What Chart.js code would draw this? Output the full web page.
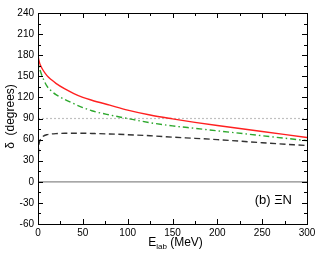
<!DOCTYPE html>
<html>
<head>
<meta charset="utf-8">
<script src="https://cdn.jsdelivr.net/npm/chart.js@4/dist/chart.umd.min.js"></script>
<style>
  html, body { margin: 0; padding: 0; background: #fff; }
  #wrap { width: 327px; height: 253px; }
</style>
</head>
<body>
<div id="wrap"><canvas id="myChart" width="327" height="253"></canvas></div>
<script>
// lab energies (MeV)
var energy = [0, 0.5, 1, 2, 3, 5, 10, 15, 20, 30, 40, 50, 60, 80, 100, 125, 150, 175, 200, 250, 300];
// phase shifts (degrees)
var redSolid   = [180, 176, 173, 168, 165, 160, 151, 145, 140, 132, 125.5, 120, 116, 109, 102, 95, 89.5, 84.5, 80, 71.5, 63];
var greenDash  = [178, 171, 166, 160, 156, 149, 136, 129, 124, 117, 111, 105.5, 101, 95, 90, 84, 79.5, 76, 72.5, 65.5, 58.5];
var blackDash  = [12, 40, 52, 58, 61, 64, 67, 68, 68.5, 69, 69, 69, 68.7, 68, 67, 65.5, 63.5, 61.8, 60, 55.5, 51.5];
var refLines = [0, 90];
var xRange = [0, 300];
var yRange = [-60, 240];
var panelLabel = "(b) \u039EN";

function pts(ys) {
    var out = [];
    for (var i = 0; i < energy.length; i++) out.push({x: energy[i], y: ys[i]});
    return out;
}
function flat(v) {
    return [{x: xRange[0], y: v}, {x: xRange[1], y: v}];
}

var font = "'Liberation Sans', Arial, sans-serif";

// frame, inward ticks on all sides, axis titles, panel label
var framePlugin = {
    id: 'framePlugin',
    afterDraw: function(chart) {
        var ctx = chart.ctx;
        var a = chart.chartArea;
        var x = chart.scales.x, y = chart.scales.y;
        ctx.save();
        ctx.strokeStyle = '#000';
        ctx.lineWidth = 1;
        ctx.strokeRect(Math.round(a.left) + 0.5, Math.round(a.top) + 0.5,
            Math.round(a.right) - Math.round(a.left), Math.round(a.bottom) - Math.round(a.top));
        ctx.beginPath();
        for (var v = xRange[0]; v <= xRange[1]; v += 25) {
            var px = Math.round(x.getPixelForValue(v)) + 0.5;
            var len = v % 50 === 0 ? 5 : 3;
            ctx.moveTo(px, a.bottom); ctx.lineTo(px, a.bottom - len);
            ctx.moveTo(px, a.top); ctx.lineTo(px, a.top + len);
        }
        for (var w = yRange[0]; w <= yRange[1]; w += 15) {
            var py = Math.round(y.getPixelForValue(w)) + 0.5;
            var l2 = w % 30 === 0 ? 5 : 3;
            ctx.moveTo(a.left, py); ctx.lineTo(a.left + l2, py);
            ctx.moveTo(a.right, py); ctx.lineTo(a.right - l2, py);
        }
        ctx.stroke();

        ctx.fillStyle = '#000';
        // x title with subscript
        var cx = (a.left + a.right) / 2 + 3;
        ctx.font = "12px " + font;
        var wE = ctx.measureText("E").width;
        var wRest = ctx.measureText(" (MeV)").width;
        ctx.font = "8px " + font;
        var wSub = ctx.measureText("lab").width;
        var x0 = cx - (wE + wSub + wRest) / 2;
        var base = 246;
        ctx.textBaseline = 'alphabetic';
        ctx.textAlign = 'left';
        ctx.font = "12px " + font;
        ctx.fillText("E", x0, base);
        ctx.font = "8px " + font;
        ctx.fillText("lab", x0 + wE, base + 3);
        ctx.font = "12px " + font;
        ctx.fillText(" (MeV)", x0 + wE + wSub, base);

        // y title
        ctx.save();
        ctx.translate(14, (a.top + a.bottom) / 2 - 2);
        ctx.rotate(-Math.PI / 2);
        ctx.textAlign = 'center';
        ctx.fillText("\u03B4  (degrees)", 0, 0);
        ctx.restore();

        // panel label
        ctx.font = "13px " + font;
        ctx.textAlign = 'right';
        ctx.fillText(panelLabel, a.right - 15, y.getPixelForValue(-25) + 5);
        ctx.restore();
    }
};

var ctx = document.getElementById("myChart").getContext("2d");
var myChart = new Chart(ctx, {
    type: 'scatter',
    data: {
        datasets: [
            { data: pts(redSolid), borderColor: '#ff2020', borderWidth: 1.4 },
            { data: pts(greenDash), borderColor: '#2ea82e', borderWidth: 1.4, borderDash: [6, 3, 1.5, 3] },
            { data: pts(blackDash), borderColor: '#333333', borderWidth: 1.4, borderDash: [6, 3.5] },
            { data: flat(refLines[1]), borderColor: '#c0c0c0', borderWidth: 1.2, borderDash: [2, 2], cubicInterpolationMode: 'default' },
            { data: flat(refLines[0]), borderColor: '#8a8a8a', borderWidth: 1.2, cubicInterpolationMode: 'default' }
        ]
    },
    options: {
        responsive: false,
        devicePixelRatio: 1,
        animation: false,
        showLine: true,
        datasets: { scatter: { showLine: true, pointRadius: 0, cubicInterpolationMode: 'monotone', fill: false } },
        layout: { padding: { left: 0, right: 20, top: 13, bottom: 0 } },
        plugins: { legend: { display: false }, tooltip: { enabled: false } },
        scales: {
            x: {
                type: 'linear', min: xRange[0], max: xRange[1],
                grid: { display: false, drawTicks: false },
                border: { display: false },
                ticks: { stepSize: 50, color: '#000', padding: 3, font: { size: 10, family: font }, maxRotation: 0 },
                afterFit: function(s) { s.height = 29; }
            },
            y: {
                type: 'linear', min: yRange[0], max: yRange[1],
                grid: { display: false, drawTicks: false },
                border: { display: false },
                ticks: { stepSize: 30, color: '#000', padding: 4, font: { size: 10, family: font } },
                afterFit: function(s) { s.width = 38; }
            }
        }
    },
    plugins: [framePlugin]
});
</script>
</body>
</html>
